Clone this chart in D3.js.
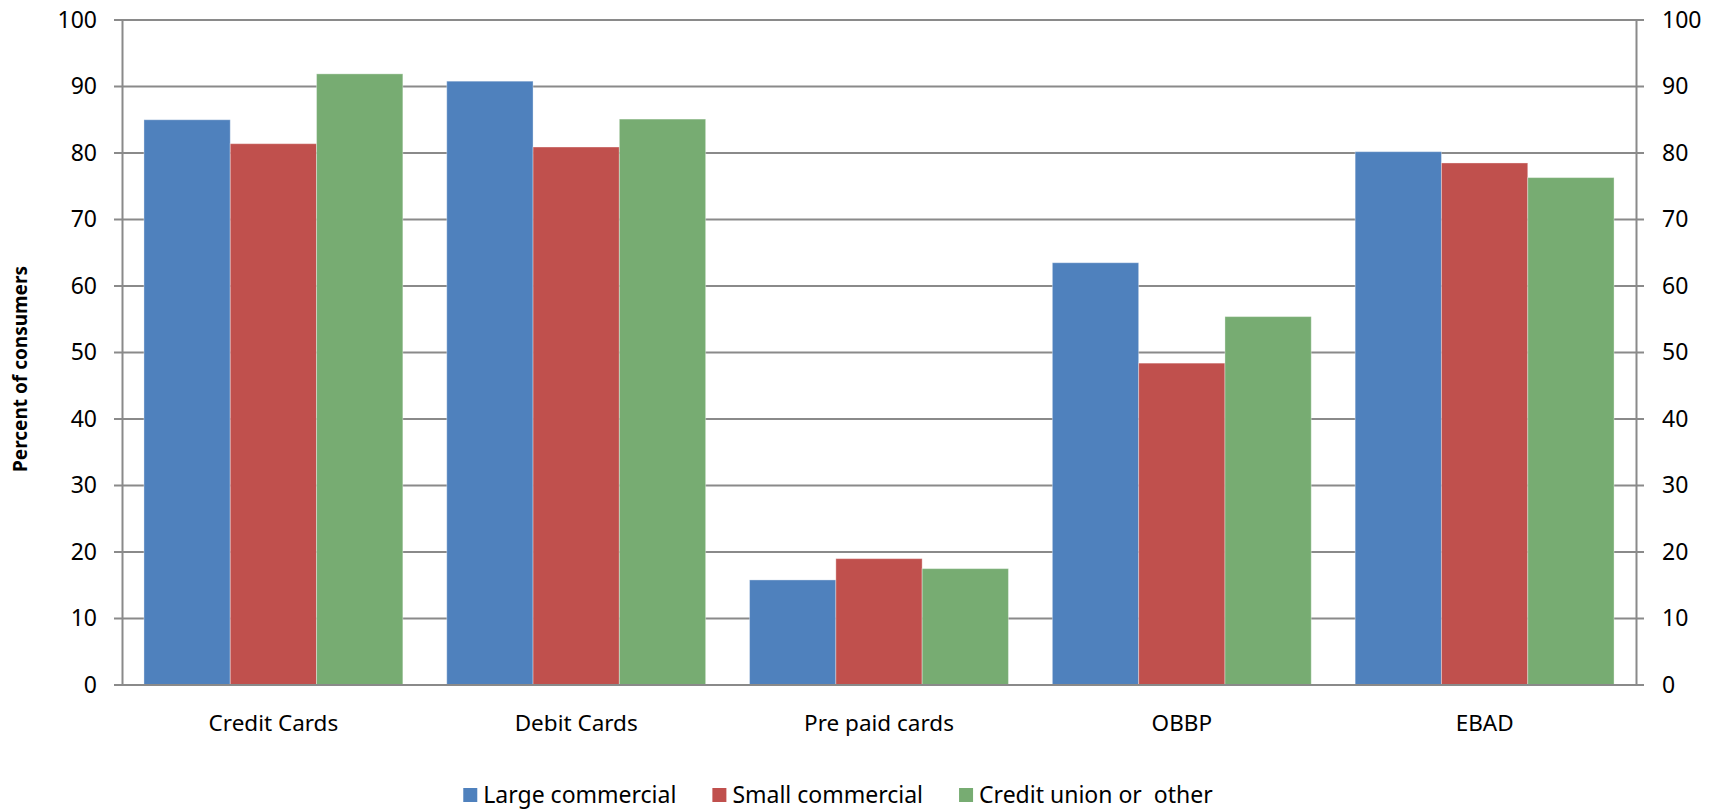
<!DOCTYPE html>
<html>
<head>
<meta charset="utf-8">
<script src="https://cdn.jsdelivr.net/npm/d3@7"></script>
<style>
  body { margin: 0; background: #fff; }
  text { font-family: "Noto Sans", "Open Sans", sans-serif; fill: #000; }
</style>
</head>
<body>
<div id="chart"></div>
<script>
var svgWidth = 1719;
var svgHeight = 809;

var categories = ["Credit Cards", "Debit Cards", "Pre paid cards", "OBBP", "EBAD"];
var seriesNames = ["Large commercial", "Small commercial", "Credit union or  other"];
var largeCommercial = [85.0, 90.8, 15.8, 63.5, 80.2];
var smallCommercial = [81.4, 80.9, 19.0, 48.4, 78.5];
var creditUnion = [91.9, 85.1, 17.5, 55.4, 76.3];
var yTicks = [0, 10, 20, 30, 40, 50, 60, 70, 80, 90, 100];
var colors = ["#4F81BD", "#C0504D", "#77AC72"];

var plot = { left: 122, right: 1636, top: 20, bottom: 685 };

var seriesValues = [largeCommercial, smallCommercial, creditUnion];

var svg = d3.select("#chart")
  .append("svg")
  .attr("width", svgWidth)
  .attr("height", svgHeight);

var yScale = d3.scaleLinear()
  .domain([0, 100])
  .range([plot.bottom, plot.top]);

var xScale = d3.scaleBand()
  .domain(categories)
  .range([plot.left, plot.right])
  .paddingInner(0.145)
  .paddingOuter(0.0725);

var xSub = d3.scaleBand()
  .domain(seriesNames)
  .range([0, xScale.bandwidth()]);

// gridlines with outward ticks on both sides
svg.append("g")
  .selectAll("line")
  .data(yTicks)
  .enter()
  .append("line")
  .attr("x1", plot.left - 8)
  .attr("x2", plot.right + 8)
  .attr("y1", d => yScale(d))
  .attr("y2", d => yScale(d))
  .attr("stroke", "#8a8a8a")
  .attr("stroke-width", 2);

// bars
var table = [];
categories.forEach((c, i) => {
  seriesNames.forEach((s, j) => {
    table.push({ cat: c, series: s, idx: j, value: seriesValues[j][i] });
  });
});

svg.append("g")
  .selectAll("rect")
  .data(table)
  .enter()
  .append("rect")
  .attr("x", d => xScale(d.cat) + xSub(d.series))
  .attr("y", d => yScale(d.value))
  .attr("width", xSub.bandwidth())
  .attr("height", d => yScale(0) - yScale(d.value))
  .attr("fill", d => colors[d.idx])
  .attr("stroke", "rgba(255,255,255,0.35)")
  .attr("stroke-width", 1);

// left and right axis lines
var leftAxis = d3.axisLeft(yScale).tickValues(yTicks).tickSize(0).tickPadding(25);
var rightAxis = d3.axisRight(yScale).tickValues(yTicks).tickSize(0).tickPadding(26);

var gLeft = svg.append("g")
  .attr("transform", `translate(${plot.left}, 0)`)
  .call(leftAxis);
var gRight = svg.append("g")
  .attr("transform", `translate(${plot.right}, 0)`)
  .call(rightAxis);

[gLeft, gRight].forEach(g => {
  g.select(".domain").attr("stroke", "#8a8a8a").attr("stroke-width", 2);
  g.selectAll("text")
    .attr("font-size", 23)
    .attr("font-family", "Noto Sans, Open Sans, sans-serif")
    .attr("fill", "#000");
});

// baseline
svg.append("line")
  .attr("x1", plot.left - 8)
  .attr("x2", plot.right + 8)
  .attr("y1", yScale(0))
  .attr("y2", yScale(0))
  .attr("stroke", "#8a8a8a")
  .attr("stroke-width", 2);

// category labels
var bottomAxis = d3.axisBottom(xScale).tickSize(0).tickPadding(30);
var gBottom = svg.append("g")
  .attr("transform", `translate(0, ${plot.bottom})`)
  .call(bottomAxis);
gBottom.select(".domain").remove();
gBottom.selectAll("text")
  .attr("font-size", 22.5)
  .attr("font-family", "Noto Sans, Open Sans, sans-serif")
  .attr("fill", "#000");

// y title
svg.append("text")
  .attr("transform", "translate(27, 369) rotate(-90)")
  .attr("text-anchor", "middle")
  .attr("font-size", 19)
  .attr("font-weight", "bold")
  .text("Percent of consumers");

// legend
var legend = svg.append("g");
var legendX = 0;
var legendGap = 36;
var items = legend.selectAll("g")
  .data(seriesNames)
  .enter()
  .append("g");

items.append("rect")
  .attr("width", 14)
  .attr("height", 14)
  .attr("y", -7)
  .attr("fill", (d, i) => colors[i]);

items.append("text")
  .attr("x", 20)
  .attr("dy", "0.35em")
  .attr("font-size", 23)
  .attr("xml:space", "preserve")
  .style("white-space", "pre")
  .text(d => d);

items.each(function() {
  var w = d3.select(this).select("text").node().getComputedTextLength();
  d3.select(this).attr("transform", `translate(${legendX}, 0)`);
  legendX += 20 + w + legendGap;
});
var legendWidth = legendX - legendGap;
legend.attr("transform", `translate(${838 - legendWidth / 2}, 795)`);
</script>
</body>
</html>
